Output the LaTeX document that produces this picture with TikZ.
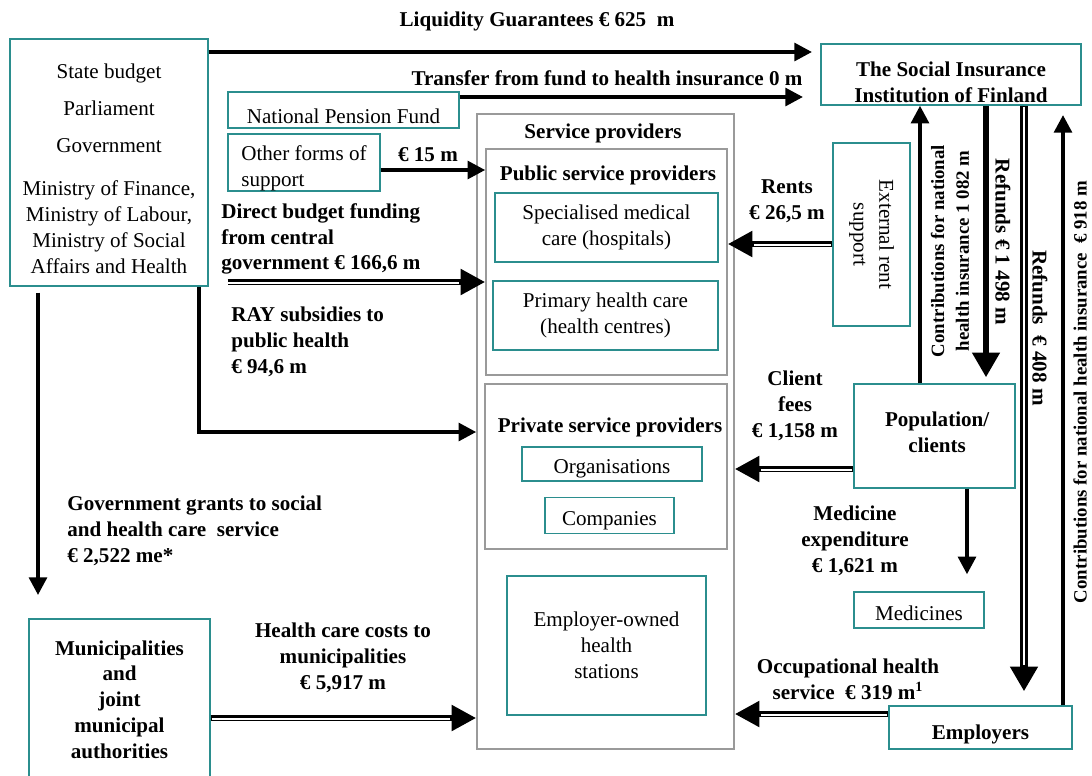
\documentclass[tikz,border=0pt]{standalone}
\usepackage{fontspec}
\setmainfont{Liberation Serif}
\usetikzlibrary{arrows.meta,positioning}
\definecolor{cTeal}{HTML}{2B8E8E}
\definecolor{cGrey}{HTML}{9A9A9A}
% strut that pushes a box text down
\newcommand{\pushdn}[1]{\rule{0pt}{#1}}
\tikzset{
  txt/.style={font=\fontsize{12}{14.7}\selectfont,inner sep=0pt,align=center},
  lbl/.style={font=\bfseries\fontsize{12}{14.7}\selectfont,inner sep=0pt,align=center},
  slbl/.style={font=\bfseries\fontsize{10.7}{14}\selectfont,inner sep=0pt,align=center},
  box/.style={draw=cTeal,line width=.8pt,align=center,inner sep=2pt,font=\fontsize{12}{14.7}\selectfont},
  bbox/.style={box,font=\bfseries\fontsize{12}{14.7}\selectfont},
  grp/.style={draw=cGrey,line width=.9pt},
  arr/.style={-{Triangle[length=10pt,width=10pt]},line width=2.2pt},
  fat/.style={-{Triangle[length=14pt,width=15pt]},line width=3.4pt},
  dbl/.style={-{Triangle[length=14pt,width=14pt]},line width=3.6pt,
    postaction={draw=white,line width=.7pt,arrows=-,shorten <=.5pt,shorten >=15pt,transform canvas={yshift=-.6pt}}},
  vdbl/.style={-{Triangle[length=14pt,width=15pt]},line width=4pt,
    postaction={draw=white,line width=1.1pt,arrows=-,shorten <=.5pt,shorten >=23pt}},
}

\begin{document}
\begin{tikzpicture}[x=0.02cm,y=-0.02cm]
  \useasboundingbox (0,0) rectangle (1092,775);
  % funding sources
  \node[box,minimum width=3.96cm,minimum height=4.94cm] (state) at (109,162.5)
    {\pushdn{15.1pt}State budget\\[6.3pt] Parliament\\[6.3pt] Government\\[10pt] Ministry of Finance,\\ Ministry of Labour,\\ Ministry of Social\\ Affairs and Health};
  \node[box,minimum width=4.62cm,minimum height=0.72cm] (npf) at (343.5,110) {\pushdn{15.1pt}National Pension Fund};
  \node[box,align=left,inner ysep=0pt,minimum width=3.04cm,minimum height=1.14cm] (other) at (304,162.5) {\pushdn{15pt}Other forms of\\ support};
  \node[bbox,minimum width=3.62cm,minimum height=3.22cm] (mun) at (119.5,699.5)
    {Municipalities\\ and\\ joint\\ municipal\\ authorities};

  % service providers
  \node[grp,minimum width=5.14cm,minimum height=12.7cm] (sp) at (605.5,431.5) {};
  \node[lbl] (spT) at (603,133) {Service providers};
  \node[grp,minimum width=4.82cm,minimum height=4.52cm] (pub) at (606.5,262) {};
  \node[lbl] (pubT) at (608,175) {Public service providers};
  \node[box,minimum width=4.46cm,minimum height=1.38cm] (spec) at (606.5,227.5) {Specialised medical\\ care (hospitals)};
  \node[box,minimum width=4.5cm,minimum height=1.38cm] (prim) at (605.5,315.5) {Primary health care\\ (health centres)};
  \node[grp,minimum width=4.84cm,minimum height=3.3cm] (priv) at (606,466.5) {};
  \node[lbl] (privT) at (610,427) {Private service providers};
  \node[box,minimum width=3.6cm,minimum height=0.68cm] (org) at (612,464) {\pushdn{12.9pt}Organisations};
  \node[box,minimum width=2.58cm,minimum height=0.7cm] (comp) at (609.5,515.5) {\pushdn{13.9pt}Companies};
  \node[box,minimum width=3.98cm,minimum height=2.78cm] (eoh) at (606.5,645.5) {Employer-owned\\ health\\ stations};

  % right hand side
  \node[bbox,inner ysep=0pt,minimum width=5.2cm,minimum height=1.22cm] (kela) at (951,74.5) {\pushdn{17.5pt}The Social Insurance\\ Institution of Finland};
  \node[box,minimum width=1.54cm,minimum height=3.66cm] (ext) at (871.5,234.5) {};
  \node[txt,rotate=-90] (extT) at (ext.center) {External rent\\ support};
  \node[bbox,minimum width=3.22cm,minimum height=2.08cm] (pop) at (934.5,436) {\ Population/\\ \ clients\rule[-4pt]{0pt}{4pt}};
  \node[box,minimum width=2.6cm,minimum height=0.72cm] (med) at (919,610) {\pushdn{11.7pt}Medicines};
  \node[bbox,minimum width=3.66cm,minimum height=0.86cm] (empl) at (980.5,727.5) {\pushdn{16.3pt}Employers};

  % levels and free ends
  \coordinate (liqEnd) at (812,52);
  \coordinate (trEnd) at (803,97);
  \coordinate (y15) at (0,170);
  \coordinate (yDb) at (0,282);
  \coordinate (rayTurn) at (199,432);
  \coordinate (grEnd) at (38,595);
  \coordinate (yHc) at (0,718);
  \coordinate (yRent) at (0,244);
  \coordinate (yFee) at (0,469);
  \coordinate (yOcc) at (0,714);
  \coordinate (xC1) at (920,0);
  \coordinate (xR1) at (986,0);
  \coordinate (xR2) at (1024,0);
  \coordinate (c918End) at (1063,115);
  \coordinate (xMed) at (967,0);

  % flows
  \draw[arr] (state.east |- liqEnd) -- (liqEnd);
  \draw[arr] (npf.east |- trEnd) -- (trEnd);
  \draw[arr] (other.east |- y15) -- (pub.west |- y15);
  \draw[dbl,shorten <=0.38cm] (state.east |- yDb) -- (pub.west |- yDb);
  \draw[arr] (rayTurn |- state.south) -- (rayTurn) -- (rayTurn -| sp.west);
  \draw[arr,shorten <=0.12cm] (state.south -| grEnd) -- (grEnd);
  \draw[dbl] (mun.east |- yHc) -- (sp.west |- yHc);
  \draw[dbl] (ext.west |- yRent) -- (pub.east |- yRent);
  \draw[dbl] (pop.west |- yFee) -- (sp.east |- yFee);
  \draw[dbl] (empl.west |- yOcc) -- (sp.east |- yOcc);
  \draw[arr] (pop.north -| xC1) -- (kela.south -| xC1);
  \draw[fat,shorten >=0.12cm] (kela.south -| xR1) -- (pop.north -| xR1);
  \draw[vdbl,shorten >=0.28cm] (kela.south -| xR2) -- (empl.north -| xR2);
  \draw[arr] (empl.north -| c918End) -- (c918End);
  \draw[arr,shorten >=0.34cm] (pop.south -| xMed) -- (med.north -| xMed);

  % amounts
  \node[lbl] (liqL) at (537,21) {Liquidity Guarantees € 625\ \ m};
  \node[lbl] (trL) at (607,78) {Transfer from fund to health insurance 0 m};
  \node[lbl] (l15) at (428,155) {€ 15 m};
  \node[lbl,align=left,anchor=west] (dbL) at (221,239) {Direct budget funding\\ from central\\ government € 166,6 m};
  \node[lbl,align=left,anchor=west] (rayL) at (231,342) {RAY subsidies to\\ public health\\ € 94,6 m};
  \node[lbl,align=left,anchor=west] (grL) at (67,531) {Government grants to social\\ and health care\ \ service\\ € 2,522 me*};
  \node[lbl] (hcL) at (343,658) {Health care costs to\\ municipalities\\ € 5,917 m};
  \node[lbl] (rentL) at (787,201) {Rents\\ € 26,5 m};
  \node[lbl] (feeL) at (795,406) {Client\\ fees\\ € 1,158 m};
  \node[lbl] (medL) at (855,541) {Medicine\\ expenditure\\ € 1,621 m};
  \node[lbl] (occL) at (848,679) {Occupational health\\ service\ \ € 319 m\textsuperscript{1}};
  \node[slbl,rotate=90] (c1L) at (950,251) {Contributions for national\\ health insurance 1 082 m};
  \node[lbl,rotate=-90] (r1L) at (1003,242) {Refunds € 1 498 m};
  \node[lbl,rotate=-90] (r2L) at (1040,328) {Refunds\ \ € 408 m};
  \node[slbl,rotate=90] (c2L) at (1080,392) {Contributions for national health insurance\ \ € 918 m};
\end{tikzpicture}
\end{document}
